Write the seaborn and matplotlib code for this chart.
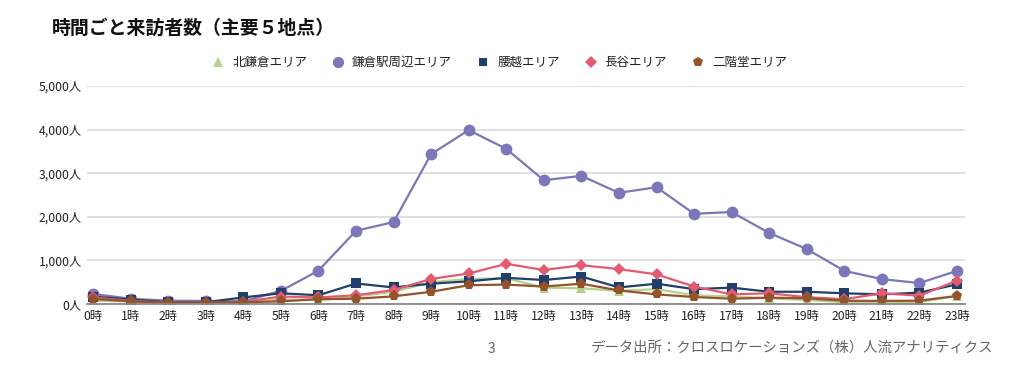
import matplotlib
matplotlib.use("Agg")
import matplotlib.pyplot as plt
from matplotlib.lines import Line2D
from matplotlib.ticker import FuncFormatter
import seaborn as sns
import pandas as pd

hours = list(range(24))
hour_labels = [f"{h}時" for h in hours]
series_names = ["北鎌倉エリア", "鎌倉駅周辺エリア", "腰越エリア", "長谷エリア", "二階堂エリア"]

kitakamakura = [75, 60, 30, 30, 40, 100, 90, 170, 280, 500, 575, 590, 375, 360, 300, 340, 200, 170, 130, 90, 40, 40, 50, 180]
kamakura_st = [230, 120, 75, 70, 60, 300, 765, 1680, 1880, 3440, 3990, 3560, 2840, 2940, 2550, 2680, 2070, 2110, 1630, 1260, 760, 570, 480, 760]
koshigoe = [170, 100, 40, 40, 150, 245, 200, 470, 380, 465, 520, 600, 550, 630, 380, 465, 340, 375, 280, 280, 245, 220, 260, 450]
hase = [150, 70, 30, 30, 50, 170, 150, 200, 320, 575, 700, 920, 780, 890, 800, 680, 400, 220, 245, 155, 110, 245, 190, 535]
nikaido = [115, 60, 30, 30, 40, 60, 110, 120, 175, 280, 430, 445, 400, 465, 310, 220, 160, 120, 145, 130, 75, 70, 75, 185]

values = [kitakamakura, kamakura_st, koshigoe, hase, nikaido]
colors = ["#b5d38f", "#7b77b9", "#213f6b", "#e35b71", "#94532b"]
markers = ["^", "o", "s", "D", "p"]
msizes = [7, 8.5, 6.5, 6.5, 8]

sns.set_theme(style="white")
plt.rcParams["font.family"] = ["Noto Sans CJK JP", "DejaVu Sans"]

fig = plt.figure(figsize=(10.24, 3.68), dpi=100)
ax = fig.add_axes([0.0854, 0.174, 0.8565, 0.592])

for name, vals, c, m, ms in zip(series_names, values, colors, markers, msizes):
    df = pd.DataFrame({"hour": hours, "value": vals})
    sns.lineplot(data=df, x="hour", y="value", ax=ax, color=c, marker=m,
                 markersize=ms, markeredgewidth=0, linewidth=1.6, label=name,
                 legend=False)

ax.set_xlim(-0.15, 23.2)
ax.set_ylim(0, 5000)
ax.set_yticks([0, 1000, 2000, 3000, 4000, 5000])
ax.yaxis.set_major_formatter(FuncFormatter(lambda v, p: f"{int(v):,}人"))
ax.set_xticks(hours)
ax.set_xticklabels(hour_labels)
ax.tick_params(axis="both", labelsize=8.8, colors="#222222", length=0, pad=4)
ax.set_xlabel("")
ax.set_ylabel("")
ax.grid(axis="y", color="#dddddd", linewidth=1.3)
ax.set_axisbelow(True)
for s in ["top", "right", "left"]:
    ax.spines[s].set_visible(False)
ax.spines["bottom"].set_color("#888888")
ax.spines["bottom"].set_linewidth(1.3)

handles = [Line2D([0], [0], color=c, marker=m, linestyle="none", markersize=ms * 0.95, markeredgewidth=0)
           for c, m, ms in zip(colors, markers, msizes)]
fig.legend(handles, series_names, loc="center", bbox_to_anchor=(0.488, 0.830), ncol=5,
           frameon=False, fontsize=9, handletextpad=0.6, columnspacing=2.0, handlelength=1.0,
           labelcolor="#222222")

fig.text(0.051, 0.922, "時間ごと来訪者数（主要５地点）", fontsize=13.6, fontweight="bold",
         color="#111111", va="center", ha="left")
fig.text(0.480, 0.052, "3", fontsize=10, color="#666666", va="center", ha="center")
fig.text(0.970, 0.052, "データ出所：クロスロケーションズ（株）人流アナリティクス", fontsize=10.4,
         color="#666666", va="center", ha="right")

fig.savefig("out.png", dpi=100)
